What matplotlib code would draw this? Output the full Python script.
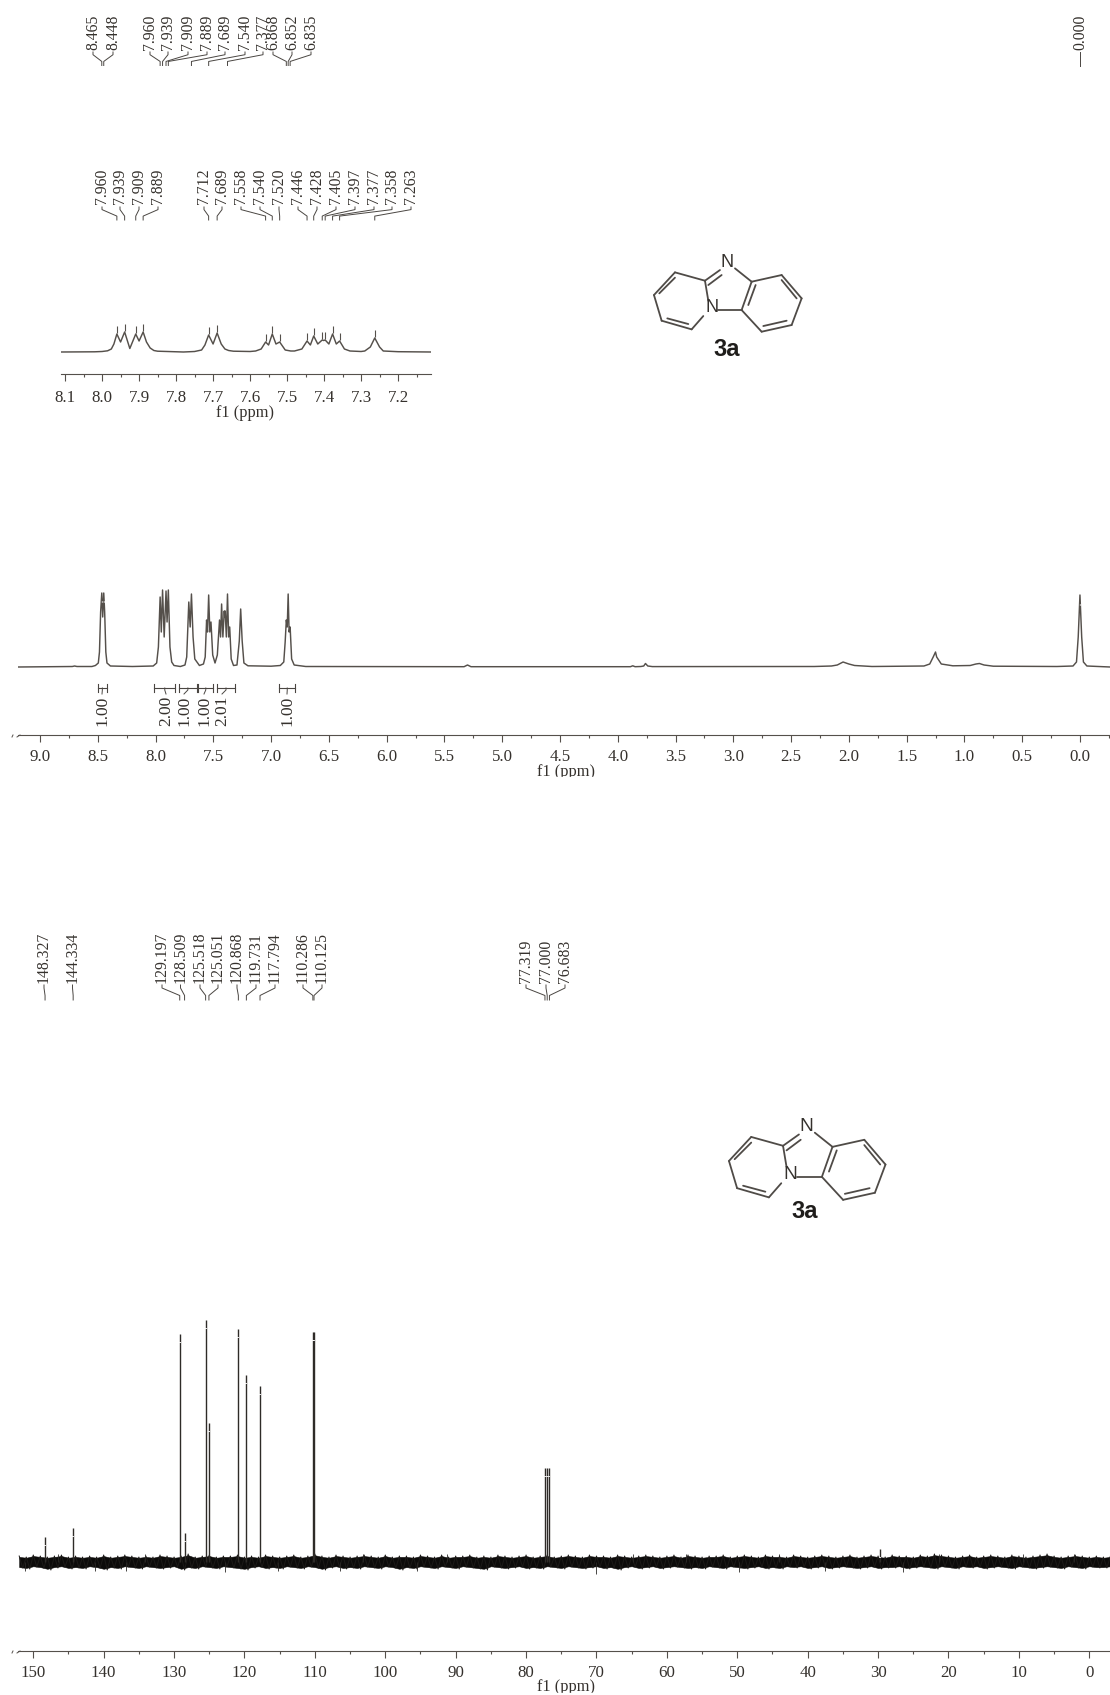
import numpy as np
import matplotlib
matplotlib.use("Agg")
import matplotlib.pyplot as plt
from matplotlib.patches import Rectangle

plt.rcParams["font.family"] = ["Liberation Serif", "DejaVu Serif"]

TEXT = "#35312d"
LINE = "#55504b"

# 1H full spectrum, (ppm, height above baseline in px)
h_ppm = [9.19, 8.72, 8.70, 8.68, 8.55, 8.52, 8.495, 8.485, 8.475, 8.465, 8.457, 8.448, 8.44, 8.43, 8.42, 8.39,
         8.2, 8.02, 7.99, 7.975, 7.96, 7.95, 7.939, 7.925, 7.909, 7.90, 7.889, 7.875, 7.86, 7.84,
         7.785, 7.745, 7.73, 7.712, 7.70, 7.689, 7.675, 7.66, 7.62, 7.585, 7.57, 7.558, 7.55, 7.54, 7.53, 7.52, 7.505,
         7.485, 7.465, 7.446, 7.437, 7.428, 7.417, 7.405, 7.401, 7.397, 7.387, 7.377, 7.367, 7.358, 7.345,
         7.325, 7.295, 7.275, 7.263, 7.25, 7.235, 7.2, 7.0, 6.92, 6.89, 6.878, 6.868, 6.86, 6.852, 6.844,
         6.835, 6.822, 6.80, 6.7, 5.33, 5.30, 5.27, 3.89, 3.87, 3.85, 3.80, 3.775, 3.76, 3.74, 3.7, 2.3, 2.15,
         2.1, 2.05, 2.0, 1.95, 1.8, 1.35, 1.3, 1.27, 1.25, 1.24, 1.2, 1.1, 0.95, 0.9, 0.87, 0.83, 0.75, 0.2,
         0.06, 0.03, 0.015, 0.0, -0.015, -0.03, -0.06, -0.26]
h_int = [0, 0.5, 1, 0.5, 0.5, 1.5, 4, 15, 55, 74, 50, 74, 55, 15, 4, 1,
         0.5, 1, 4, 20, 70, 35, 77, 30, 76, 45, 77, 20, 5, 1.5,
         0.5, 2, 10, 65, 40, 73, 30, 8, 1.5, 3, 10, 47, 35, 72, 35, 45, 12,
         4, 12, 47, 30, 63, 30, 56, 50, 56, 30, 73, 30, 40, 8,
         1.5, 2, 26, 58, 26, 4, 1.2, 0.8, 1.5, 5, 25, 47, 40, 73, 35,
         40, 8, 2, 0.5, 0.3, 2, 0.3, 0.3, 1.2, 0.3, 0.5, 1, 3.5, 1, 0.4, 0.5, 1,
         2, 5, 3, 1.5, 0.5, 1, 3, 10, 15, 10, 3, 1.2, 1.5, 3, 3.5, 2, 0.8, 0.5,
         1, 5, 30, 72, 30, 5, 1, 0]
h_top_labels = ["8.465", "8.448", "7.960", "7.939", "7.909", "7.889", "7.689", "7.540", "7.377", "6.868", "6.852", "6.835"]
h_top_label_x = [93, 113, 150, 168, 188, 207, 225, 245, 263, 273, 292, 311]

# integrals: start, end, value, where the number sits
int_start = [8.50, 8.01, 7.80, 7.63, 7.47, 6.93]
int_end = [8.42, 7.83, 7.64, 7.50, 7.31, 6.79]
int_value = ["1.00", "2.00", "1.00", "1.00", "2.01", "1.00"]
int_label_x = [102, 166, 184, 204, 222, 287]

# aromatic region inset
zoom_ppm = [8.111, 8.02, 8.0, 7.985, 7.975, 7.968, 7.96, 7.95, 7.939, 7.925, 7.909, 7.90, 7.889, 7.88, 7.87, 7.86, 7.85, 7.78,
            7.75, 7.731, 7.722, 7.712, 7.70, 7.689, 7.678, 7.668, 7.658, 7.645, 7.60, 7.585, 7.57, 7.558, 7.55, 7.54, 7.53, 7.52,
            7.505, 7.49, 7.48, 7.46, 7.446, 7.437, 7.428, 7.417, 7.405, 7.401, 7.397, 7.387, 7.377, 7.367, 7.358,
            7.345, 7.33, 7.30, 7.29, 7.275, 7.263, 7.25, 7.24, 7.2, 7.111]
zoom_int = [0, 0.2, 0.5, 1.2, 3, 8, 18, 10, 20, 3.5, 18, 11, 20, 10, 4, 1.5, 0.8, 0,
            0.5, 2, 7, 17, 8, 19, 8, 3, 1.5, 0.8, 0.5, 1, 3, 10, 7, 18, 8, 10,
            2, 1, 1, 3, 11, 7, 16, 8, 12, 11.5, 12, 8, 18, 8, 11,
            3, 1, 0.5, 1, 5, 14, 5, 1, 0.3, 0]
zoom_labels = ["7.960", "7.939", "7.909", "7.889", "7.712", "7.689", "7.558", "7.540", "7.520", "7.446", "7.428", "7.405", "7.397", "7.377", "7.358", "7.263"]
zoom_label_x = [102, 120, 139, 158, 204, 222, 241, 260, 279, 298, 317, 336, 355, 374, 392, 411]

# 13C peaks
c_ppm = [148.327, 144.334, 129.197, 128.509, 125.518, 125.051, 120.868, 119.731, 117.794, 110.286, 110.125, 77.319, 77.000, 76.683, 29.7]
c_int = [25, 34, 228, 29, 242, 139, 233, 187, 176, 230, 230, 94, 94, 94, 13]
c_labels = ["148.327", "144.334", "129.197", "128.509", "125.518", "125.051", "120.868", "119.731", "117.794", "110.286", "110.125", "77.319", "77.000", "76.683"]
c_label_x = [44, 72.5, 162, 180.5, 200, 218, 237, 256, 275, 303, 322, 526, 546, 565]

# 13C noise band envelope, one value per ppm from 152 downwards
noise_hi = [6, 5, 7, 6, 5, 6, 7, 5, 6, 5,
            6, 5, 7, 5, 6, 7, 6, 5, 6, 5,
            7, 6, 5, 6, 8, 5, 6, 7, 5, 6,
            6, 7, 5, 6, 5, 7, 6, 5, 6, 7,
            5, 6, 8, 6, 5, 7, 6, 5, 6, 7,
            6, 5, 7, 5, 6, 6, 5, 7, 6, 5,
            7, 5, 6, 6, 7, 5, 6, 5, 7, 6,
            5, 6, 7, 5, 6, 7, 5, 6, 7, 6,
            5, 7, 6, 6, 5, 7, 6, 5, 6, 7,
            6, 5, 6, 7, 5, 7, 6, 5, 6, 6,
            7, 5, 6, 7, 6, 5, 7, 6, 6, 5,
            7, 6, 5, 6, 7, 6, 5, 6, 7, 5,
            6, 7, 6, 5, 7, 6, 6, 5, 7, 6,
            8, 7, 6, 5, 6, 7, 5, 6, 7, 6,
            5, 7, 6, 5, 6, 7, 8, 6, 5, 6,
            7, 6, 5, 6, 5, 6]
noise_lo = [-6, -7, -5, -6, -8, -6, -5, -7, -6, -7,
            -5, -6, -8, -6, -7, -5, -6, -7, -5, -6,
            -7, -6, -5, -8, -6, -7, -5, -6, -7, -5,
            -6, -7, -8, -6, -5, -7, -6, -7, -5, -6,
            -7, -5, -6, -8, -6, -5, -7, -6, -7, -5,
            -6, -7, -5, -6, -8, -6, -7, -5, -6, -7,
            -5, -6, -7, -5, -6, -7, -8, -5, -6, -7,
            -6, -5, -7, -6, -7, -5, -6, -7, -5, -6,
            -7, -6, -5, -7, -6, -8, -6, -5, -7, -6,
            -5, -7, -6, -5, -6, -7, -6, -7, -5, -6,
            -7, -5, -6, -7, -6, -5, -7, -6, -7, -5,
            -6, -5, -7, -6, -5, -7, -6, -5, -6, -7,
            -6, -5, -7, -6, -6, -5, -7, -6, -5, -6,
            -7, -5, -6, -7, -5, -6, -5, -7, -6, -5,
            -6, -7, -5, -6, -7, -6, -5, -6, -7, -5,
            -6, -7, -5, -6, -6, -5]
spike_ppm = [151.2, 146.5, 141.3, 136.8, 134.1, 122.7, 115.2, 106.4, 103.1, 95.5, 91.2, 70.0, 64.8, 57.3, 49.8, 44.1, 37.6, 26.5, 21.3, 9.4, 2.2]
spike_val = [-9, 8, -9, -9, 8, -10, -9, -9, 8, -9, 8, -12, 8, 8, -10, 8, -9, -10, 8, 8, 8]

h_major = [9.0, 8.5, 8.0, 7.5, 7.0, 6.5, 6.0, 5.5, 5.0, 4.5, 4.0, 3.5, 3.0, 2.5, 2.0, 1.5, 1.0, 0.5, 0.0]
h_minor = [8.75, 8.25, 7.75, 7.25, 6.75, 6.25, 5.75, 5.25, 4.75, 4.25, 3.75, 3.25, 2.75, 2.25, 1.75, 1.25, 0.75, 0.25, -0.25]
zoom_major = [8.1, 8.0, 7.9, 7.8, 7.7, 7.6, 7.5, 7.4, 7.3, 7.2]
zoom_minor = [8.05, 7.95, 7.85, 7.75, 7.65, 7.55, 7.45, 7.35, 7.25, 7.15]
c_major = [150, 140, 130, 120, 110, 100, 90, 80, 70, 60, 50, 40, 30, 20, 10, 0]
c_minor = [145, 135, 125, 115, 105, 95, 85, 75, 65, 55, 45, 35, 25, 15, 5]

W, H = 1110, 1695
fig = plt.figure(figsize=(W / 100, H / 100), dpi=100)


def make_axes(x0, x1, y_top, y_axis, baseline):
    ax = fig.add_axes([x0 / W, (H - y_axis) / H, (x1 - x0) / W, (y_axis - y_top) / H])
    ax.set_ylim(baseline - y_axis, baseline - y_top)
    ax.patch.set_visible(False)
    for s in ["top", "left", "right"]:
        ax.spines[s].set_visible(False)
    ax.spines["bottom"].set_color(LINE)
    ax.spines["bottom"].set_linewidth(0.8)
    ax.set_yticks([])
    return ax


def set_ticks(ax, major, minor, fmt, xlim, pad=5.5):
    ax.set_xticks(major)
    ax.set_xticklabels([fmt % v for v in major], fontsize=12.2, color=TEXT)
    ax.set_xticks(minor, minor=True)
    ax.tick_params(axis="x", which="major", length=4.7, width=0.8, color=LINE, pad=pad)
    ax.tick_params(axis="x", which="minor", length=2.2, width=0.8, color=LINE)
    ax.set_xlim(*xlim)


ax_h = make_axes(18, 1110, 585, 735, 667)
ax_z = make_axes(61, 431, 315, 374, 352)
ax_c = make_axes(18, 1110, 1310, 1651, 1562)
set_ticks(ax_h, h_major, h_minor, "%.1f", (9.19, -0.26))
set_ticks(ax_z, zoom_major, zoom_minor, "%.1f", (8.111, 7.111), pad=6.5)
set_ticks(ax_c, c_major, c_minor, "%d", (152.17, -2.94))

# traces
ax_h.plot(h_ppm, h_int, color=LINE, lw=1.05)
ax_z.plot(zoom_ppm, zoom_int, color=LINE, lw=1.05)
for lab in zoom_labels:
    p = float(lab)
    top = np.interp(p, zoom_ppm[::-1], zoom_int[::-1])
    ax_z.vlines(p, top + 1.5, top + 8, color=LINE, lw=0.8)

noise_x = 152 - np.arange(len(noise_hi))
core_hi = np.array(noise_hi) * 0.85
core_lo = np.array(noise_lo) * 0.85
ax_c.fill_between(noise_x, core_lo, core_hi, color="#0c0b0a", lw=0.4)
# zigzag between the two envelopes gives the rough edge of the band
zig_x = np.column_stack([noise_x, noise_x - 0.5]).ravel()
zig_y = np.column_stack([noise_hi, noise_lo]).ravel()
ax_c.plot(zig_x, zig_y, color="#1c1a18", lw=0.7)
ax_c.vlines(spike_ppm, 0, spike_val, color="#2a2826", lw=0.6)
ax_c.vlines(c_ppm, 0, c_int, color="#2e2b28", lw=1.0)
# white notch under the peak markers
ax_c.vlines(c_ppm, [v - 9 for v in c_int], [v - 7.7 for v in c_int], color="white", lw=1.2)
ax_h.vlines([0.0, 8.465, 8.448], [62, 65, 65], [63, 66, 66], color="white", lw=1.0)

# overlay in image pixels for labels and drawings
ov = fig.add_axes([0, 0, 1, 1], zorder=10)
ov.set_xlim(0, W)
ov.set_ylim(H, 0)
ov.axis("off")
ov.patch.set_visible(False)


def data_x(ax, ppm):
    return ax.transData.transform((ppm, 0))[0]


def peak_labels(ax, labels, label_x, y_text, y0, y1, size=11.3):
    for lab, lx in zip(labels, label_x):
        px = data_x(ax, float(lab))
        ov.text(lx, y_text, lab, rotation=90, ha="center", va="bottom", fontsize=size, color=TEXT)
        dy = y1 - y0
        ov.plot([lx, lx, px, px], [y0, y0 + dy * 0.2, y1 - dy * 0.3, y1], color="#4a4642", lw=0.7)


peak_labels(ax_h, h_top_labels, h_top_label_x, 50, 52, 65.5)
peak_labels(ax_z, zoom_labels, zoom_label_x, 204, 207, 220)
peak_labels(ax_c, c_labels, c_label_x, 983, 985, 1000)

# TMS label
tms_x = data_x(ax_h, 0.0)
ov.text(tms_x, 50, "0.000", rotation=90, ha="center", va="bottom", fontsize=11.3, color=TEXT)
ov.plot([tms_x, tms_x], [52, 65.5], color="#4a4642", lw=0.7)

# integrals
for a, b, val, lx in zip(int_start, int_end, int_value, int_label_x):
    xa, xb = data_x(ax_h, a), data_x(ax_h, b)
    xm = (xa + xb) / 2
    ov.plot([xa, xb], [688, 688], color="#4a4642", lw=0.8)
    ov.plot([xa, xa], [684, 692], color="#4a4642", lw=0.8)
    ov.plot([xb, xb], [684, 692], color="#4a4642", lw=0.8)
    ov.plot([xm, xm, lx], [688, 690, 694], color="#4a4642", lw=0.7)
    ov.text(lx, 726, val, rotation=90, ha="center", va="bottom", fontsize=12.5, color=TEXT)

# axis labels, the reference cuts off the lower edge of two of them
ov.text(566, 772, "f1 (ppm)", ha="center", va="center", fontsize=11.8, color=TEXT)
ov.add_patch(Rectangle((520, 777), 100, 10, color="white", zorder=5))
ov.text(245, 413, "f1 (ppm)", ha="center", va="center", fontsize=11.8, color=TEXT)
ov.text(566, 1687, "f1 (ppm)", ha="center", va="center", fontsize=11.8, color=TEXT)
ov.add_patch(Rectangle((520, 1692.5), 100, 4, color="white", zorder=5))

# small stroke at the left end of each long axis
for y in [735, 1651]:
    ov.plot([12, 13], [y + 2, y], color=LINE, lw=0.7)
    ov.plot([17, 20], [y + 2, y], color=LINE, lw=0.7)

# structure 3a, points measured from the top drawing
mol_bonds = [[(105, 127), (195, 152)], [(195, 152), (205, 212)], [(190, 258), (155, 298)],
             [(155, 298), (65, 272)], [(65, 272), (42, 195)], [(42, 195), (105, 127)],
             [(58, 190), (105, 143)], [(82, 265), (145, 282)],
             [(195, 152), (240, 120)], [(205, 165), (245, 135)], [(285, 115), (335, 155)],
             [(335, 155), (425, 135)], [(425, 135), (485, 205)], [(485, 205), (455, 285)],
             [(455, 285), (365, 305)], [(365, 305), (305, 240)], [(305, 240), (335, 155)],
             [(325, 225), (347, 165)], [(425, 150), (470, 205)], [(440, 272), (370, 288)],
             [(305, 240), (235, 240)]]


def draw_mol(nx, ny, scale, label_xy):
    def pt(p):
        return nx + (p[0] - 262) / 3 * scale, ny + (p[1] - 98) / 3 * scale
    for a, b in mol_bonds:
        (x0, y0), (x1, y1) = pt(a), pt(b)
        ov.plot([x0, x1], [y0, y1], color="#4f4b47", lw=1.3, solid_capstyle="round")
    for p in [(262, 98), (215, 232)]:
        x, y = pt(p)
        ov.text(x, y, "N", ha="center", va="center", fontsize=13 * scale, color=TEXT, family="Liberation Sans")
    ov.text(label_xy[0], label_xy[1], "3a", ha="center", va="center", fontsize=17, fontweight="bold",
            color="#1f1d1b", family="Liberation Sans")


draw_mol(727.3, 262.7, 1.0, (727, 350))
draw_mol(806.7, 1126.7, 1.06, (805, 1212))

fig.savefig("out.png", dpi=100)
